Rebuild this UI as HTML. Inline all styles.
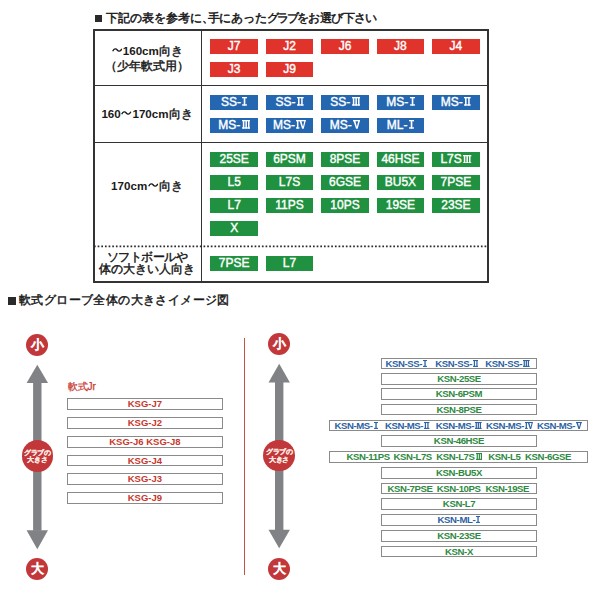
<!DOCTYPE html>
<html lang="ja">
<head>
<meta charset="utf-8">
<style>
html,body{margin:0;padding:0;background:#fff;}
body{width:600px;height:600px;position:relative;overflow:hidden;font-family:"Liberation Sans",sans-serif;color:#222;}
.a{position:absolute;}
.hd{position:absolute;font-size:12px;line-height:14px;white-space:nowrap;color:#1a1a1a;-webkit-text-stroke:0.5px #1a1a1a;letter-spacing:-0.5px;}
.sq{position:absolute;width:7.5px;height:7.5px;background:#2a2a2a;}
.ln{position:absolute;background:#333;}
.lbl{position:absolute;left:93px;width:108px;text-align:center;font-size:11.5px;line-height:14px;white-space:nowrap;color:#1a1a1a;-webkit-text-stroke:0.45px #1a1a1a;}
.lbl .n{font-size:11.6px;font-weight:bold;-webkit-text-stroke:0;}
.tl{display:inline-block;width:10.5px;height:6px;vertical-align:2.5px;margin:0 0.6px;}
.bx{position:absolute;width:47.7px;height:14.6px;color:#fff;font-weight:normal;-webkit-text-stroke:0.4px #fff;font-size:12px;line-height:14.8px;text-align:center;white-space:nowrap;}
.r{background:#e0332c;}
.b{background:#2467b0;}
.g{background:#1f9140;}
.cir{position:absolute;border-radius:50%;background:#c2373a;color:#fff;text-align:center;}
.ob{position:absolute;box-sizing:border-box;border:1px solid #8a8a8a;height:11.5px;font-weight:bold;font-size:9.5px;line-height:9px;text-align:center;white-space:nowrap;}
.ot{position:absolute;height:11px;font-weight:bold;font-size:9.6px;letter-spacing:-0.4px;line-height:11px;white-space:nowrap;}
.kr{color:#c8372d;}
.kb{color:#2d62a3;}
.kg{color:#2e8a42;}
.rm{display:inline-block;vertical-align:0;}
</style>
</head>
<body>
<div class="sq" style="left:94.5px;top:14.7px;"></div>
<div class="hd" style="left:105.5px;top:11px;letter-spacing:0px;">下記の表を参考に、</div>
<div class="hd" style="left:207.5px;top:11px;letter-spacing:-0.2px;">手にあったグ</div>
<div class="hd" style="left:276.5px;top:11px;letter-spacing:-1.4px;">ラブ</div>
<div class="hd" style="left:297px;top:11px;letter-spacing:-0.6px;">をお選び下さい</div>
<div class="ln" style="left:93px;top:29px;width:396px;height:2px;"></div>
<div class="ln" style="left:93px;top:280.5px;width:396px;height:2px;"></div>
<div class="ln" style="left:93px;top:29px;width:2px;height:253px;"></div>
<div class="ln" style="left:487px;top:29px;width:2px;height:253px;"></div>
<div class="ln" style="left:201.2px;top:29px;width:1px;height:252px;"></div>
<div class="ln" style="left:93px;top:85px;width:395px;height:1px;"></div>
<div class="ln" style="left:93px;top:141.5px;width:395px;height:1px;"></div>
<svg class="a" style="left:0;top:0;" width="600" height="600"><line x1="94" y1="246.3" x2="488" y2="246.3" stroke="#2a2a2a" stroke-width="1.7" stroke-dasharray="1.7 1.95"/></svg>
<div class="lbl" style="top:44px;"><svg class="tl" viewBox="0 0 10.5 6"><path d="M0.7,4.2 C2.2,1.2 4,1.4 5.25,3 C6.5,4.6 8.3,4.8 9.8,1.8" fill="none" stroke="#1a1a1a" stroke-width="1.4"/></svg><span class="n">160cm</span>向き</div>
<div class="lbl" style="top:59px;">（少年軟式用）</div>
<div class="lbl" style="top:107px;"><span class="n">160</span><svg class="tl" viewBox="0 0 10.5 6"><path d="M0.7,4.2 C2.2,1.2 4,1.4 5.25,3 C6.5,4.6 8.3,4.8 9.8,1.8" fill="none" stroke="#1a1a1a" stroke-width="1.4"/></svg><span class="n">170cm</span>向き</div>
<div class="lbl" style="top:179px;"><span class="n">170cm</span><svg class="tl" viewBox="0 0 10.5 6"><path d="M0.7,4.2 C2.2,1.2 4,1.4 5.25,3 C6.5,4.6 8.3,4.8 9.8,1.8" fill="none" stroke="#1a1a1a" stroke-width="1.4"/></svg>向き</div>
<div class="lbl" style="top:250.3px;"><span style="letter-spacing:-0.5px">ソフトボールや</span></div>
<div class="lbl" style="top:261.8px;">体の大きい人向き</div>
<div class="bx r" style="left:210.3px;top:39px;">J7</div>
<div class="bx r" style="left:265.7px;top:39px;">J2</div>
<div class="bx r" style="left:321.2px;top:39px;">J6</div>
<div class="bx r" style="left:376.6px;top:39px;">J8</div>
<div class="bx r" style="left:432.1px;top:39px;">J4</div>
<div class="bx r" style="left:210.3px;top:62px;">J3</div>
<div class="bx r" style="left:265.7px;top:62px;">J9</div>
<div class="bx b" style="left:210.3px;top:95px;">SS-<svg class="rm" viewBox="0 0 5.0 8.5" style="width:0.424em;height:0.72em;margin-left:0.12em;" fill="currentColor"><rect x="0" y="0" width="5" height="1.3"/><rect x="0" y="7.2" width="5" height="1.3"/><rect x="1.7" y="0" width="1.6" height="8.5"/></svg></div>
<div class="bx b" style="left:265.7px;top:95px;">SS-<svg class="rm" viewBox="0 0 6.6 8.5" style="width:0.559em;height:0.72em;margin-left:0.12em;" fill="currentColor"><rect x="0" y="0" width="6.6" height="1.3"/><rect x="0" y="7.2" width="6.6" height="1.3"/><rect x="1.0" y="0" width="1.5" height="8.5"/><rect x="4.1" y="0" width="1.5" height="8.5"/></svg></div>
<div class="bx b" style="left:321.2px;top:95px;">SS-<svg class="rm" viewBox="0 0 8.2 8.5" style="width:0.695em;height:0.72em;margin-left:0.12em;" fill="currentColor"><rect x="0" y="0" width="8.2" height="1.3"/><rect x="0" y="7.2" width="8.2" height="1.3"/><rect x="0.8" y="0" width="1.5" height="8.5"/><rect x="3.35" y="0" width="1.5" height="8.5"/><rect x="5.9" y="0" width="1.5" height="8.5"/></svg></div>
<div class="bx b" style="left:376.6px;top:95px;">MS-<svg class="rm" viewBox="0 0 5.0 8.5" style="width:0.424em;height:0.72em;margin-left:0.12em;" fill="currentColor"><rect x="0" y="0" width="5" height="1.3"/><rect x="0" y="7.2" width="5" height="1.3"/><rect x="1.7" y="0" width="1.6" height="8.5"/></svg></div>
<div class="bx b" style="left:432.1px;top:95px;">MS-<svg class="rm" viewBox="0 0 6.6 8.5" style="width:0.559em;height:0.72em;margin-left:0.12em;" fill="currentColor"><rect x="0" y="0" width="6.6" height="1.3"/><rect x="0" y="7.2" width="6.6" height="1.3"/><rect x="1.0" y="0" width="1.5" height="8.5"/><rect x="4.1" y="0" width="1.5" height="8.5"/></svg></div>
<div class="bx b" style="left:210.3px;top:118px;">MS-<svg class="rm" viewBox="0 0 8.2 8.5" style="width:0.695em;height:0.72em;margin-left:0.12em;" fill="currentColor"><rect x="0" y="0" width="8.2" height="1.3"/><rect x="0" y="7.2" width="8.2" height="1.3"/><rect x="0.8" y="0" width="1.5" height="8.5"/><rect x="3.35" y="0" width="1.5" height="8.5"/><rect x="5.9" y="0" width="1.5" height="8.5"/></svg></div>
<div class="bx b" style="left:265.7px;top:118px;">MS-<svg class="rm" viewBox="0 0 9.6 8.5" style="width:0.813em;height:0.72em;margin-left:0.12em;" fill="currentColor"><rect x="0" y="0" width="9.6" height="1.3"/><rect x="0" y="7.2" width="3.4" height="1.3"/><rect x="0.9" y="0" width="1.5" height="8.5"/><polygon points="3.4,0.5 5.2,0.5 6.9,6.6 8.3,0.5 9.6,0.5 7.6,8.5 6.0,8.5"/></svg></div>
<div class="bx b" style="left:321.2px;top:118px;">MS-<svg class="rm" viewBox="0 0 7.2 8.5" style="width:0.610em;height:0.72em;margin-left:0.12em;" fill="currentColor"><rect x="0" y="0" width="7.2" height="1.3"/><polygon points="0.3,0.5 2.2,0.5 3.8,6.6 5.3,0.5 6.9,0.5 4.6,8.5 3.0,8.5"/></svg></div>
<div class="bx b" style="left:376.6px;top:118px;">ML-<svg class="rm" viewBox="0 0 5.0 8.5" style="width:0.424em;height:0.72em;margin-left:0.12em;" fill="currentColor"><rect x="0" y="0" width="5" height="1.3"/><rect x="0" y="7.2" width="5" height="1.3"/><rect x="1.7" y="0" width="1.6" height="8.5"/></svg></div>
<div class="bx g" style="left:210.3px;top:152.3px;">25SE</div>
<div class="bx g" style="left:265.7px;top:152.3px;">6PSM</div>
<div class="bx g" style="left:321.2px;top:152.3px;">8PSE</div>
<div class="bx g" style="left:376.6px;top:152.3px;">46HSE</div>
<div class="bx g" style="left:432.1px;top:152.3px;">L7S<svg class="rm" viewBox="0 0 8.2 8.5" style="width:0.695em;height:0.72em;margin-left:0.12em;" fill="currentColor"><rect x="0" y="0" width="8.2" height="1.3"/><rect x="0" y="7.2" width="8.2" height="1.3"/><rect x="0.8" y="0" width="1.5" height="8.5"/><rect x="3.35" y="0" width="1.5" height="8.5"/><rect x="5.9" y="0" width="1.5" height="8.5"/></svg></div>
<div class="bx g" style="left:210.3px;top:175.3px;">L5</div>
<div class="bx g" style="left:265.7px;top:175.3px;">L7S</div>
<div class="bx g" style="left:321.2px;top:175.3px;">6GSE</div>
<div class="bx g" style="left:376.6px;top:175.3px;">BU5X</div>
<div class="bx g" style="left:432.1px;top:175.3px;">7PSE</div>
<div class="bx g" style="left:210.3px;top:198.3px;">L7</div>
<div class="bx g" style="left:265.7px;top:198.3px;">11PS</div>
<div class="bx g" style="left:321.2px;top:198.3px;">10PS</div>
<div class="bx g" style="left:376.6px;top:198.3px;">19SE</div>
<div class="bx g" style="left:432.1px;top:198.3px;">23SE</div>
<div class="bx g" style="left:210.3px;top:221.3px;">X</div>
<div class="bx g" style="left:210.3px;top:256px;">7PSE</div>
<div class="bx g" style="left:265.7px;top:256px;">L7</div>
<div class="sq" style="left:8px;top:297.4px;width:7.8px;height:7.6px;"></div>
<div class="hd" style="left:19px;top:293px;font-size:12.4px;letter-spacing:0.4px;-webkit-text-stroke:0.45px #1a1a1a;">軟式グローブ全体の大きさイメージ図</div>
<div class="cir" style="left:26.299999999999997px;top:334.2px;width:22px;height:22px;font-size:13px;line-height:22px;-webkit-text-stroke:0.9px #fff;">小</div>
<svg class="a" style="left:0;top:0;" width="600" height="600"><polygon points="37.3,364.7 48.0,383 26.599999999999998,383" fill="#808285"/><rect x="33.099999999999994" y="382.5" width="8.4" height="148.29999999999995" fill="#808285"/><polygon points="37.3,549.2 48.0,530.3 26.599999999999998,530.3" fill="#808285"/></svg>
<div class="cir" style="left:21.549999999999997px;top:440.15px;width:31.5px;height:31.5px;font-size:6.5px;line-height:7.5px;font-weight:bold;color:#fde8e0;-webkit-text-stroke:0.25px #fde8e0;letter-spacing:-0.4px;"><div style="padding-top:8.5px;">グラブの<br>大きさ</div></div>
<div class="cir" style="left:26.299999999999997px;top:558.3px;width:22px;height:22px;font-size:13px;line-height:22px;-webkit-text-stroke:0.9px #fff;">大</div>
<div class="cir" style="left:268.2px;top:333.2px;width:22px;height:22px;font-size:13px;line-height:22px;-webkit-text-stroke:0.9px #fff;">小</div>
<svg class="a" style="left:0;top:0;" width="600" height="600"><polygon points="279.2,363.7 289.9,382.5 268.5,382.5" fill="#808285"/><rect x="275.0" y="382.0" width="8.4" height="148.20000000000005" fill="#808285"/><polygon points="279.2,548.3 289.9,529.7 268.5,529.7" fill="#808285"/></svg>
<div class="cir" style="left:263.45px;top:439.75px;width:31.5px;height:31.5px;font-size:6.5px;line-height:7.5px;font-weight:bold;color:#fde8e0;-webkit-text-stroke:0.25px #fde8e0;letter-spacing:-0.4px;"><div style="padding-top:8.5px;">グラブの<br>大きさ</div></div>
<div class="cir" style="left:268.2px;top:557.8px;width:22px;height:22px;font-size:13px;line-height:22px;-webkit-text-stroke:0.9px #fff;">大</div>
<div class="a" style="left:244px;top:338px;width:1px;height:237px;background:#c5524a;"></div>
<div class="a kr" style="left:67.5px;top:380.5px;font-size:10px;line-height:12px;white-space:nowrap;-webkit-text-stroke:0.25px #c8372d;">軟式Jr</div>
<div class="ob kr" style="left:67.2px;top:398.4px;width:155.4px;">KSG-J7</div>
<div class="ob kr" style="left:67.2px;top:417px;width:155.4px;">KSG-J2</div>
<div class="ob kr" style="left:67.2px;top:436px;width:155.4px;">KSG-J6 KSG-J8</div>
<div class="ob kr" style="left:67.2px;top:454.5px;width:155.4px;">KSG-J4</div>
<div class="ob kr" style="left:67.2px;top:473.4px;width:155.4px;">KSG-J3</div>
<div class="ob kr" style="left:67.2px;top:492px;width:155.4px;">KSG-J9</div>
<div class="ob" style="left:381.3px;top:357.5px;width:155.4px;"></div>
<div class="ot kb" style="left:385.40000000000003px;top:357.5px;">KSN-SS-<svg class="rm" viewBox="0 0 5.0 8.5" style="width:0.424em;height:0.72em;margin-left:0.12em;" fill="currentColor"><rect x="0" y="0" width="5" height="1.3"/><rect x="0" y="7.2" width="5" height="1.3"/><rect x="1.7" y="0" width="1.6" height="8.5"/></svg></div>
<div class="ot kb" style="left:435.3px;top:357.5px;">KSN-SS-<svg class="rm" viewBox="0 0 6.6 8.5" style="width:0.559em;height:0.72em;margin-left:0.12em;" fill="currentColor"><rect x="0" y="0" width="6.6" height="1.3"/><rect x="0" y="7.2" width="6.6" height="1.3"/><rect x="1.0" y="0" width="1.5" height="8.5"/><rect x="4.1" y="0" width="1.5" height="8.5"/></svg></div>
<div class="ot kb" style="left:485.3px;top:357.5px;">KSN-SS-<svg class="rm" viewBox="0 0 8.2 8.5" style="width:0.695em;height:0.72em;margin-left:0.12em;" fill="currentColor"><rect x="0" y="0" width="8.2" height="1.3"/><rect x="0" y="7.2" width="8.2" height="1.3"/><rect x="0.8" y="0" width="1.5" height="8.5"/><rect x="3.35" y="0" width="1.5" height="8.5"/><rect x="5.9" y="0" width="1.5" height="8.5"/></svg></div>
<div class="ob" style="left:381.3px;top:373px;width:155.4px;"></div>
<div class="ot kg" style="left:381.3px;top:373px;width:155.4px;text-align:center;">KSN-25SE</div>
<div class="ob" style="left:381.3px;top:388.3px;width:155.4px;"></div>
<div class="ot kg" style="left:381.3px;top:388.3px;width:155.4px;text-align:center;">KSN-6PSM</div>
<div class="ob" style="left:381.3px;top:403.8px;width:155.4px;"></div>
<div class="ot kg" style="left:381.3px;top:403.8px;width:155.4px;text-align:center;">KSN-8PSE</div>
<div class="ob" style="left:329.2px;top:419.7px;width:259.1px;"></div>
<div class="ot kb" style="left:334.40000000000003px;top:419.7px;">KSN-MS-<svg class="rm" viewBox="0 0 5.0 8.5" style="width:0.424em;height:0.72em;margin-left:0.12em;" fill="currentColor"><rect x="0" y="0" width="5" height="1.3"/><rect x="0" y="7.2" width="5" height="1.3"/><rect x="1.7" y="0" width="1.6" height="8.5"/></svg></div>
<div class="ot kb" style="left:384.90000000000003px;top:419.7px;">KSN-MS-<svg class="rm" viewBox="0 0 6.6 8.5" style="width:0.559em;height:0.72em;margin-left:0.12em;" fill="currentColor"><rect x="0" y="0" width="6.6" height="1.3"/><rect x="0" y="7.2" width="6.6" height="1.3"/><rect x="1.0" y="0" width="1.5" height="8.5"/><rect x="4.1" y="0" width="1.5" height="8.5"/></svg></div>
<div class="ot kb" style="left:435.8px;top:419.7px;">KSN-MS-<svg class="rm" viewBox="0 0 8.2 8.5" style="width:0.695em;height:0.72em;margin-left:0.12em;" fill="currentColor"><rect x="0" y="0" width="8.2" height="1.3"/><rect x="0" y="7.2" width="8.2" height="1.3"/><rect x="0.8" y="0" width="1.5" height="8.5"/><rect x="3.35" y="0" width="1.5" height="8.5"/><rect x="5.9" y="0" width="1.5" height="8.5"/></svg></div>
<div class="ot kb" style="left:485.90000000000003px;top:419.7px;">KSN-MS-<svg class="rm" viewBox="0 0 9.6 8.5" style="width:0.813em;height:0.72em;margin-left:0.12em;" fill="currentColor"><rect x="0" y="0" width="9.6" height="1.3"/><rect x="0" y="7.2" width="3.4" height="1.3"/><rect x="0.9" y="0" width="1.5" height="8.5"/><polygon points="3.4,0.5 5.2,0.5 6.9,6.6 8.3,0.5 9.6,0.5 7.6,8.5 6.0,8.5"/></svg></div>
<div class="ot kb" style="left:536.9px;top:419.7px;">KSN-MS-<svg class="rm" viewBox="0 0 7.2 8.5" style="width:0.610em;height:0.72em;margin-left:0.12em;" fill="currentColor"><rect x="0" y="0" width="7.2" height="1.3"/><polygon points="0.3,0.5 2.2,0.5 3.8,6.6 5.3,0.5 6.9,0.5 4.6,8.5 3.0,8.5"/></svg></div>
<div class="ob" style="left:381.3px;top:435.3px;width:155.4px;"></div>
<div class="ot kg" style="left:381.3px;top:435.3px;width:155.4px;text-align:center;">KSN-46HSE</div>
<div class="ob" style="left:329.2px;top:451.4px;width:259.1px;"></div>
<div class="ot kg" style="left:346.5px;top:451.4px;">KSN-11PS</div>
<div class="ot kg" style="left:393.6px;top:451.4px;">KSN-L7S</div>
<div class="ot kg" style="left:436.3px;top:451.4px;">KSN-L7S<svg class="rm" viewBox="0 0 8.2 8.5" style="width:0.695em;height:0.72em;margin-left:0.12em;" fill="currentColor"><rect x="0" y="0" width="8.2" height="1.3"/><rect x="0" y="7.2" width="8.2" height="1.3"/><rect x="0.8" y="0" width="1.5" height="8.5"/><rect x="3.35" y="0" width="1.5" height="8.5"/><rect x="5.9" y="0" width="1.5" height="8.5"/></svg></div>
<div class="ot kg" style="left:488.2px;top:451.4px;">KSN-L5</div>
<div class="ot kg" style="left:525.0999999999999px;top:451.4px;">KSN-6GSE</div>
<div class="ob" style="left:381.3px;top:467px;width:155.4px;"></div>
<div class="ot kg" style="left:381.3px;top:467px;width:155.4px;text-align:center;">KSN-BU5X</div>
<div class="ob" style="left:381.3px;top:482.6px;width:155.4px;"></div>
<div class="ot kg" style="left:387.6px;top:482.6px;">KSN-7PSE</div>
<div class="ot kg" style="left:436.8px;top:482.6px;">KSN-10PS</div>
<div class="ot kg" style="left:485.40000000000003px;top:482.6px;">KSN-19SE</div>
<div class="ob" style="left:381.3px;top:498.4px;width:155.4px;"></div>
<div class="ot kg" style="left:381.3px;top:498.4px;width:155.4px;text-align:center;">KSN-L7</div>
<div class="ob" style="left:381.3px;top:514px;width:155.4px;"></div>
<div class="ot kb" style="left:381.3px;top:514px;width:155.4px;text-align:center;">KSN-ML-<svg class="rm" viewBox="0 0 5.0 8.5" style="width:0.424em;height:0.72em;margin-left:0.12em;" fill="currentColor"><rect x="0" y="0" width="5" height="1.3"/><rect x="0" y="7.2" width="5" height="1.3"/><rect x="1.7" y="0" width="1.6" height="8.5"/></svg></div>
<div class="ob" style="left:381.3px;top:530px;width:155.4px;"></div>
<div class="ot kg" style="left:381.3px;top:530px;width:155.4px;text-align:center;">KSN-23SE</div>
<div class="ob" style="left:381.3px;top:545.6px;width:155.4px;"></div>
<div class="ot kg" style="left:381.3px;top:545.6px;width:155.4px;text-align:center;">KSN-X</div>
</body>
</html>
